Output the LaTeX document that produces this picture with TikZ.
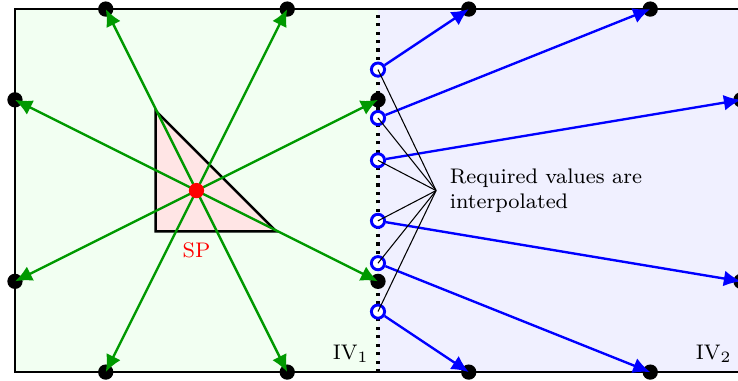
\documentclass[tikz,border=0pt]{standalone}
\usepackage{tikz}
\usetikzlibrary{calc, positioning, arrows.meta}
\definecolor{mygreen}{rgb}{0,0.6,0}
\tikzset{
	gridnode/.style={
			circle,
			fill=black,
			minimum size=5.8pt,
			inner sep=0pt
		},
	spnode/.style={
			circle,
			fill=red,
			minimum size=5.8pt,
			inner sep=0pt
		},
	ghostnode/.style={
			circle,
			draw=blue,
			fill=white,
			line width=1.1pt,
			minimum size=5pt,
			inner sep=0pt
		},
	greenray/.style={
			draw=mygreen,
			line width=0.9pt,
			-{Latex[length=6.5pt,width=6pt]}
		},
	blueray/.style={
			draw=blue,
			line width=0.9pt,
			-{Latex[length=6.5pt,width=6pt]}
		},
	hint/.style={
			draw=black,
			thin
		}
}

\begin{document}
\begin{tikzpicture}[x=1.21cm, y=1.21cm, font=\footnotesize]
				\useasboundingbox (-0.165,-0.088) rectangle (7.967,4.1);
				\fill[green!5] (0,0) rectangle (4,4);
				\fill[blue!6] (4,0) rectangle (8,4);
				\draw[line width=0.9pt] (0,0) rectangle (8,4);
				\draw[very thick, dotted] (4,0) -- (4,4);

				\draw[line width=0.9pt, fill=red!10] (1.55,1.55) -- (2.88,1.55) -- (1.55,2.88) -- cycle;

				% grid values of the first interpolation volume
				\node[gridnode] (la) at (1, 4) {};
				\node[gridnode] (lb) at (3, 4) {};
				\node[gridnode] (lc) at (0, 3) {};
				\node[gridnode] (ld) at (4, 3) {};
				\node[gridnode] (le) at (0, 1) {};
				\node[gridnode] (lf) at (4, 1) {};
				\node[gridnode] (lg) at (1, 0) {};
				\node[gridnode] (lh) at (3, 0) {};

				% grid values of the second interpolation volume
				\node[gridnode] (ra) at (5, 4) {};
				\node[gridnode] (rb) at (7, 4) {};
				\node[gridnode] (rc) at (8, 3) {};
				\node[gridnode] (rd) at (8, 1) {};
				\node[gridnode] (re) at (7, 0) {};
				\node[gridnode] (rf) at (5, 0) {};

				\coordinate (c) at (2, 2);
				\foreach \t in {la, lb, lc, ld, le, lf, lg, lh}
					\draw[greenray] (c) -- (\t.center);

				% values on the boundary
				\node[ghostnode] (qa) at ($(c)!2/3!(ra)$) {};
				\node[ghostnode] (qb) at ($(c)!2/5!(rb)$) {};
				\node[ghostnode] (qc) at ($(c)!1/3!(rc)$) {};
				\node[ghostnode] (qd) at ($(c)!1/3!(rd)$) {};
				\node[ghostnode] (qe) at ($(c)!2/5!(re)$) {};
				\node[ghostnode] (qf) at ($(c)!2/3!(rf)$) {};

				\draw[blueray] (qa) -- (ra.center);
				\draw[blueray] (qb) -- (rb.center);
				\draw[blueray] (qc) -- (rc.center);
				\draw[blueray] (qd) -- (rd.center);
				\draw[blueray] (qe) -- (re.center);
				\draw[blueray] (qf) -- (rf.center);

				\coordinate (hub) at (4.64, 2);
				\foreach \q in {qa, qb, qc, qd, qe, qf}
					\draw[hint] (hub) -- (\q.center);
				\node[anchor=west, align=left] (note) at (4.69, 2) {Required values are\\interpolated};

				\node[spnode] (sp) at (c) {};
				\node[text=red] (splabel) at (2, 1.34) {SP};
				\node[anchor=south east] (iva) at (4, 0) {IV$_1$};
				\node[anchor=south east] (ivb) at (8, 0) {IV$_2$};
			\end{tikzpicture}
\end{document}
